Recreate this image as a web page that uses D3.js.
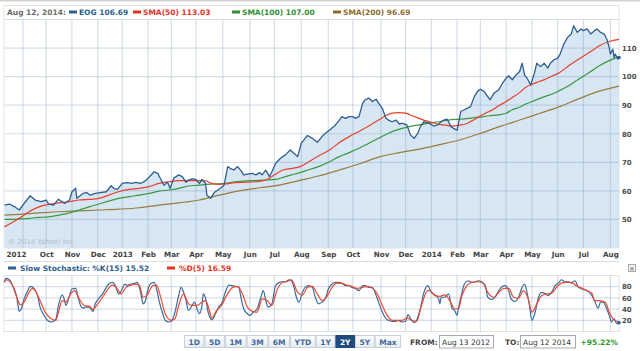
<!DOCTYPE html>
<html>
<head>
<meta charset="utf-8">
<script src="https://cdn.jsdelivr.net/npm/d3@7"></script>
<style>
  body { margin: 0; background: #fff; }
  svg text { font-family: "DejaVu Sans", Verdana, sans-serif; }
</style>
</head>
<body>
<div id="chart"></div>
<script>
// ---- data -------------------------------------------------------------
// trading window and NYSE closures inside it (x axis is in trading sessions)
const fromDate = "2012-08-13";
const toDate = "2014-08-12";
const holidays = ["2012-09-03", "2012-10-29", "2012-10-30", "2012-11-22", "2012-12-25",
    "2013-01-01", "2013-01-21", "2013-02-18", "2013-03-29", "2013-05-27", "2013-07-04",
    "2013-09-02", "2013-11-28", "2013-12-25", "2014-01-01", "2014-01-20", "2014-02-17",
    "2014-04-18", "2014-05-26", "2014-07-04"];

const monthLabels = ["2012", "Oct", "Nov", "Dec", "2013", "Feb", "Mar", "Apr", "May", "Jun", "Jul", "Aug",
    "Sep", "Oct", "Nov", "Dec", "2014", "Feb", "Mar", "Apr", "May", "Jun", "Jul", "Aug"];
const priceTicks = [50, 60, 70, 80, 90, 100, 110];
const stochTicks = [20, 40, 60, 80];

// [session, value]
const eogPrice = [[0,55],[4,55.4],[8,54.5],[12,53.3],[16,55.6],[21,58.3],[25,56.8],[30,56.2],[34,56.8],[36,55.4],
    [40,55],[44,57.1],[49,55.6],[53,56.8],[55,59.7],[58,60.9],[59,57.4],[64,59.1],[67,59.4],[70,58.5],[74,59.1],
    [78,59.4],[83,59.7],[87,61.8],[89,60.9],[92,60.5],[96,62.6],[100,62.9],[104,62.6],[107,63],[111,62.6],
    [115,63.6],[119,65.3],[122,66.7],[125,66.1],[127,64.4],[130,62],[133,63],[135,60.9],[138,64.4],[142,65.6],
    [145,65],[148,63],[150,63.8],[153,64.2],[156,64],[159,62.6],[161,64],[164,62.6],[165,58.5],[168,57.4],
    [171,59.4],[174,60.3],[176,60.9],[179,62],[182,68.5],[184,67.9],[187,67.3],[190,68.5],[193,67],[195,65.6],
    [198,65.9],[202,66.1],[205,65.6],[208,66.4],[210,65.6],[213,67.3],[216,65],[218,66.7],[221,69.6],[225,71.4],
    [229,72.6],[233,74.3],[236,73.2],[239,72],[242,76.7],[244,77.8],[247,79.4],[251,78.4],[255,77],[260,79.6],
    [265,81.3],[269,82.7],[273,84.8],[275,86],[278,85.4],[281,86],[284,86],[286,85.4],[289,86],[292,90.7],
    [294,91.9],[297,92.5],[300,91.3],[303,92.1],[305,90.7],[308,88.9],[311,85.4],[313,84.8],[316,84.2],[319,84.8],
    [322,83.4],[324,83.7],[328,83.1],[331,79.6],[334,78.4],[337,80.2],[339,82.5],[342,84.2],[346,83.7],[350,82.7],
    [353,83.1],[356,84.2],[358,84.8],[361,85.1],[364,82.5],[366,81.9],[369,81.3],[372,87.8],[375,88.4],[377,88.9],
    [380,89.5],[383,93],[386,95],[388,95.6],[391,94.8],[394,93],[396,91.9],[399,94.2],[403,95.4],[406,97.7],
    [409,99.5],[411,100.3],[414,98.9],[417,100.6],[420,101.8],[422,104.7],[424,100.6],[426,99.5],[429,97.1],
    [432,101.2],[434,104.7],[437,103.5],[440,104.7],[443,103],[445,104.7],[448,105.9],[451,106.5],[453,107.9],
    [456,111.4],[459,113.7],[462,114.9],[464,117.8],[467,115.5],[470,116.7],[472,116.1],[475,116.7],[478,114.9],
    [481,116.1],[483,116.7],[486,115.5],[489,114.9],[491,113.2],[493,110.2],[494,107.9],[496,109.6],[497,106.7],
    [498,107.9],[500,106.1],[501,106.69]];

const sma50 = [[0,47.4],[12,50.4],[20,52.7],[28,54.4],[36,55.3],[44,55.8],[53,56.2],[61,56.8],[69,57],[77,57.4],
    [85,58.5],[93,59.7],[102,60.5],[110,60.9],[118,61.5],[126,62.6],[134,63.2],[142,63.6],[150,63.6],[159,63.6],
    [164,63.5],[169,62.6],[175,62.3],[180,62.4],[188,62.9],[197,63],[205,63.2],[213,63.8],[218,65],[227,67.3],
    [235,67.9],[241,68.5],[248,70.2],[256,72.2],[265,74.3],[273,76.9],[281,79],[289,80.8],[297,82.7],[305,84.8],
    [311,86.4],[316,87.2],[322,87.4],[327,87.2],[333,86.2],[338,85.4],[343,84.6],[349,83.9],[354,83.3],[360,83],
    [365,82.7],[371,83],[376,83.4],[381,84.5],[387,86],[392,87.2],[398,88.4],[403,89.8],[409,91.3],[414,92.7],
    [420,94.4],[425,96.3],[430,97.3],[436,98.3],[441,99.1],[447,100.3],[452,101.3],[460,103.8],[468,106.1],
    [477,108.5],[485,110.8],[493,112.3],[501,113.03]];

const sma100 = [[0,50],[12,50.1],[20,50.4],[28,50.7],[36,50.9],[44,51.5],[53,52.3],[61,53.3],[69,54.4],[77,55.4],
    [85,56.4],[93,57.4],[102,58],[110,58.5],[118,59.1],[126,59.9],[134,60.3],[142,60.9],[150,61.7],[159,62],
    [164,62.3],[172,62.4],[180,62.6],[188,63.2],[197,63.5],[205,63.6],[213,63.8],[221,64],[229,65],[237,65.9],
    [246,67.1],[256,68.5],[265,70.2],[273,72],[281,73.4],[289,74.9],[297,76.7],[305,78.4],[313,80.2],[322,81.6],
    [330,82.5],[338,83.1],[346,83.7],[354,84.2],[362,84.8],[371,85.1],[379,85.4],[387,85.8],[395,86.3],[403,86.6],
    [409,87.2],[414,88.4],[420,89.3],[425,90.4],[430,91.3],[436,92.3],[441,93.1],[447,94],[452,95],[460,96.8],
    [468,99.1],[477,101.5],[485,103.8],[493,105.6],[501,107]];

const sma200 = [[0,51.5],[12,51.8],[28,52.3],[44,52.7],[61,53],[77,53.3],[93,53.6],[110,54.1],[126,55],[142,55.8],
    [159,56.8],[175,58.5],[191,60],[208,61.1],[224,62],[240,63.6],[256,65.2],[273,67.3],[289,69.4],[305,71.8],
    [322,73.4],[338,74.6],[354,76.1],[371,77.8],[387,80],[403,82.4],[420,84.8],[436,87.1],[452,89.4],[468,92.2],
    [485,94.9],[501,96.69]];

const stochK = [[0,87.6],[1,94.7],[4,92.4],[6,84.7],[8,75.9],[10,61.2],[11,46.5],[12,35.9],[14,41.8],[16,58.2],
    [19,72.9],[21,80.6],[24,77],[27,64.1],[29,43.5],[32,30],[35,20],[38,17],[40,18.2],[42,22.9],[44,46.5],[47,65.3],
    [49,55.3],[50,46.5],[53,64.1],[55,75.9],[58,77],[60,61.2],[62,46.5],[64,41.8],[66,43.5],[69,43.5],[72,35.9],
    [74,49.4],[77,59.4],[80,67.1],[83,78.8],[85,84.7],[88,87.6],[91,78.8],[93,67.1],[96,75.9],[98,84.7],[100,82.4],
    [103,84.7],[106,85.9],[108,87.6],[110,78.8],[112,58.2],[113,49.4],[115,55.3],[117,75.9],[120,86.5],[122,87.6],
    [124,75.9],[126,55.3],[129,31.8],[131,20],[134,17],[136,18.2],[139,34.7],[142,64.1],[144,78.8],[146,70],
    [148,55.3],[150,37.6],[153,46.5],[155,52.4],[157,40.6],[159,31.8],[161,46.5],[162,67.1],[164,58.2],[166,34.7],
    [168,22.9],[169,21],[172,31.8],[175,45.3],[177,49.4],[180,70],[183,82.9],[186,81.8],[188,80.6],[191,78.8],
    [193,58.2],[195,40.6],[198,31.8],[200,28.8],[203,34.7],[206,40.6],[209,61.2],[211,72.9],[213,55.3],[215,43.5],
    [218,49.4],[221,81.8],[224,87.6],[226,88.8],[229,88.8],[232,92.4],[234,90.6],[236,78.8],[238,61.2],[240,52.4],
    [243,70],[245,78.8],[248,81.8],[251,78.8],[253,64.1],[256,49.4],[259,52.4],[262,61.2],[264,75.9],[267,84.7],
    [270,87.6],[272,87.6],[275,86.5],[278,81.8],[281,81.8],[283,78.8],[286,77],[289,72.9],[292,81.8],[294,81.8],
    [297,78.8],[300,78.8],[302,70],[305,52.4],[308,34.7],[311,22.9],[313,20],[316,18.2],[319,18.2],[321,20],
    [324,17],[327,18.2],[329,30],[331,22.9],[334,15.9],[336,20],[339,40.6],[342,70],[345,81.8],[348,70],[351,65.3],
    [354,58.2],[355,49.4],[356,61.2],[359,61.2],[362,67.1],[365,40.6],[367,37.6],[369,28.8],[370,40.6],[373,70],
    [375,84.7],[378,90.6],[381,87.6],[384,88.8],[386,90.6],[389,88.8],[392,81.8],[394,61.2],[397,57.1],[400,61.2],
    [403,72.9],[405,78.8],[408,81.8],[411,72.9],[413,58.2],[416,53.5],[419,61.2],[422,78.8],[424,84.7],[426,70],
    [428,46.5],[430,20],[433,37.6],[435,58.2],[438,70],[441,67.1],[443,64.1],[446,70],[449,81.8],[452,87.6],
    [454,92.4],[457,88.8],[460,88.8],[462,86.5],[465,90.6],[468,78.8],[471,75.9],[473,74.7],[476,71.2],[479,64.1],
    [481,55.3],[484,41.8],[486,52.4],[488,52.4],[491,40.6],[493,28.8],[495,17],[497,22.9],[499,14.1],[501,15.52]];

const stochD = [[0,87.6],[1,92.4],[6,84.7],[10,61.2],[13,47.6],[16,52.4],[20,70],[23,77],[25,72.9],[29,55.3],
    [34,31.8],[38,22.9],[42,20],[44,34.7],[47,55.3],[50,52.4],[54,67.1],[57,72.9],[61,58.2],[65,46.5],[69,45.3],
    [72,39.4],[76,49.4],[80,61.2],[84,74.7],[88,82.9],[92,75.9],[95,67.1],[99,78.8],[103,82.9],[107,84.7],[110,82],
    [113,61.2],[116,64.1],[121,81.8],[124,82.9],[127,64.1],[131,31.8],[136,20],[139,22.9],[142,46.5],[146,67.1],
    [150,49.4],[153,46.5],[157,46.5],[161,52.4],[164,55.3],[167,37.6],[169,24],[173,37.6],[177,46.5],[181,64.1],
    [186,78.8],[190,80.6],[194,67.1],[198,43.5],[202,35.9],[206,34.7],[210,58.2],[214,55.3],[218,46.5],[222,72.9],
    [226,86.5],[230,88.8],[234,92.4],[239,70],[243,65.3],[247,78.8],[251,80.6],[255,67.1],[259,55.3],[263,62.9],
    [267,78.8],[271,86.5],[275,85.9],[279,82.9],[283,80.6],[287,77],[292,78.8],[296,80.6],[300,77],[304,67.1],
    [308,46.5],[312,28.8],[316,20],[320,20],[324,20],[328,24.1],[332,20],[336,18.2],[340,46.5],[345,72.9],
    [347,72.9],[351,64.1],[355,62.9],[359,65.3],[363,55.3],[367,40.6],[370,40.6],[373,64.1],[377,81.8],[381,87.6],
    [386,88.8],[390,86.5],[394,70],[399,61.2],[403,70],[407,77],[411,77],[415,61.2],[419,59.4],[423,72.9],[427,58.2],
    [430,34.7],[434,49.4],[438,64.1],[442,67.1],[446,68.2],[450,78.8],[454,86.5],[458,87.6],[462,87.6],[466,81.8],
    [471,77],[475,72.9],[479,68.2],[481,55.3],[485,55.3],[490,52.4],[493,34.7],[496,22.9],[501,16.59]];

const legendDate = "Aug 12, 2014:";
const legendNames = ["EOG", "SMA(50)", "SMA(100)", "SMA(200)"];
const legendValues = ["106.69", "113.03", "107.00", "96.69"];
const stochNames = ["Slow Stochastic: %K(15)", "%D(5)"];
const stochValues = ["15.52", "16.59"];
const rangeButtons = ["1D", "5D", "1M", "3M", "6M", "YTD", "1Y", "2Y", "5Y", "Max"];
const selectedRange = "2Y";
const fromLabel = "Aug 13 2012", toLabel = "Aug 12 2014";
const periodChange = "+95.22%";

// ---- trading calendar -------------------------------------------------
const parse = d3.timeParse("%Y-%m-%d");
const fmt = d3.timeFormat("%Y-%m-%d");
const closed = new Set(holidays);
const sessions = d3.timeDays(parse(fromDate), d3.timeDay.offset(parse(toDate), 1))
    .filter(d => d.getDay() % 6 !== 0 && !closed.has(fmt(d)));
// first session of every month after the partial start month
const monthStarts = [];
sessions.forEach((d, i) => {
    if (i > 0 && d.getMonth() !== sessions[i - 1].getMonth()) monthStarts.push(i);
});

// ---- layout -----------------------------------------------------------
const W = 640, H = 351;
const plotL = 4.5, plotR = 619;
const mainTop = 19.5, mainBot = 248;
const stoTop = 275.5, stoBot = 331.5;

const colors = { price: "#2e5e90", fill: "#d6e6f2", sma50: "#e8402c", sma100: "#3b983f", sma200: "#9b7b3c" };
const legendColors = ["#2e5e90", "#e3331f", "#2f9036", "#8d6d2c"];

const svg = d3.select("#chart").append("svg")
    .attr("width", W)
    .attr("height", H);

const x = d3.scaleLinear().domain([0, sessions.length - 1]).range([plotL, plotR]);
const y = d3.scaleLinear().domain([40, 120]).range([mainBot, mainTop]);
const ys = d3.scaleLinear().domain([0, 100]).range([stoBot, stoTop]);

// top page separator
svg.append("rect").attr("x", 0).attr("y", 0).attr("width", W).attr("height", 1.5).attr("fill", "#cfd3d6");

// frames
svg.append("rect")
    .attr("x", 4).attr("y", 5.5).attr("width", plotR - 4).attr("height", mainBot - 5.5)
    .attr("fill", "#fff").attr("stroke", "#dfe5ea");
svg.append("rect")
    .attr("x", 4).attr("y", stoTop).attr("width", plotR - 4).attr("height", stoBot - stoTop)
    .attr("fill", "#fff").attr("stroke", "#dfe5ea");

// price area fill
const area = d3.area()
    .x(d => x(d[0]))
    .y0(y(40))
    .y1(d => y(d[1]));
svg.append("path").datum(eogPrice).attr("d", area).attr("fill", colors.fill);

// grid (drawn over the fill, translucent)
const gridColor = "rgba(120,150,182,0.3)";
const grid = svg.append("g").attr("stroke", gridColor).attr("stroke-width", 1.2);
grid.selectAll(".vmain").data(monthStarts).enter().append("line")
    .attr("x1", d => x(d)).attr("x2", d => x(d))
    .attr("y1", mainTop).attr("y2", mainBot);
grid.selectAll(".hmain").data(priceTicks.concat([120])).enter().append("line")
    .attr("x1", plotL).attr("x2", plotR)
    .attr("y1", d => y(d)).attr("y2", d => y(d));
grid.selectAll(".vsto").data(monthStarts).enter().append("line")
    .attr("x1", d => x(d)).attr("x2", d => x(d))
    .attr("y1", stoTop).attr("y2", stoBot);
grid.selectAll(".hsto").data(stochTicks).enter().append("line")
    .attr("x1", plotL).attr("x2", plotR)
    .attr("y1", d => ys(d)).attr("y2", d => ys(d));

// copyright
svg.append("text")
    .attr("x", 8).attr("y", 244)
    .attr("font-size", "7px")
    .attr("fill", "#aebfce")
    .text("\u00a9 2014 Yahoo! Inc.");

// moving averages and price
const smooth = d3.line().x(d => x(d[0])).y(d => y(d[1])).curve(d3.curveMonotoneX);
const raw = d3.line().x(d => x(d[0])).y(d => y(d[1]));

[[sma200, colors.sma200], [sma100, colors.sma100], [sma50, colors.sma50]].forEach(([s, c]) => {
    svg.append("path").datum(s)
        .attr("d", smooth)
        .attr("fill", "none")
        .attr("stroke", c)
        .attr("stroke-width", 1.2);
});

svg.append("path").datum(eogPrice)
    .attr("d", raw)
    .attr("fill", "none")
    .attr("stroke", colors.price)
    .attr("stroke-width", 1.3)
    .attr("stroke-linejoin", "round");

const lastP = eogPrice[eogPrice.length - 1];
svg.append("circle").attr("cx", x(lastP[0])).attr("cy", y(lastP[1])).attr("r", 1.8).attr("fill", colors.price);

// stochastic lines
const kLine = d3.line().x(d => x(d[0])).y(d => ys(d[1])).curve(d3.curveMonotoneX);
svg.append("path").datum(stochK)
    .attr("d", kLine).attr("fill", "none")
    .attr("stroke", "#3b6b9e").attr("stroke-width", 1.2);
svg.append("path").datum(stochD)
    .attr("d", kLine).attr("fill", "none")
    .attr("stroke", "#ec4a33").attr("stroke-width", 1.2);
const lastK = stochK[stochK.length - 1];
svg.append("circle").attr("cx", x(lastK[0])).attr("cy", ys(lastK[1])).attr("r", 1.8).attr("fill", "#2e5e90");

// right axes
const axisText = sel => sel.selectAll("text")
    .attr("font-size", "7px").attr("font-weight", "bold").attr("fill", "#4d4d4d");

svg.append("g")
    .attr("transform", `translate(${plotR + 3},0)`)
    .call(d3.axisRight(y).tickValues(priceTicks).tickSize(0).tickPadding(0))
    .call(g => g.select(".domain").remove())
    .call(axisText);

svg.append("g")
    .attr("transform", `translate(${plotR + 3},0)`)
    .call(d3.axisRight(ys).tickValues(stochTicks).tickSize(0).tickPadding(0))
    .call(g => g.select(".domain").remove())
    .call(axisText);

// month axis
const xAxis = svg.append("g")
    .attr("transform", `translate(0,${mainBot})`)
    .call(d3.axisBottom(x).tickValues(monthStarts).tickFormat((d, i) => monthLabels[i]).tickSize(0).tickPadding(4))
    .call(g => g.select(".domain").remove())
    .call(sel => sel.selectAll("text")
        .attr("font-size", "7.2px").attr("font-weight", "bold").attr("fill", "#444"));
// first label is pushed inside the frame
xAxis.select(".tick text").attr("text-anchor", "start").attr("x", 6 - x(monthStarts[0]));

svg.append("line")
    .attr("x1", 4).attr("x2", plotR).attr("y1", 261.5).attr("y2", 261.5)
    .attr("stroke", "#d8dcdf");

// top legend
const legend = svg.append("g").attr("font-size", "7.5px").attr("font-weight", "bold");
legend.append("text").attr("x", 7).attr("y", 15).attr("fill", "#6b6b6b").text(legendDate);
const legendX = [69, 133, 232, 333];
legendNames.forEach((n, i) => {
    legend.append("rect")
        .attr("x", legendX[i]).attr("y", 10.5).attr("width", 8).attr("height", 3)
        .attr("fill", legendColors[i]);
    legend.append("text")
        .attr("x", legendX[i] + 10).attr("y", 15)
        .attr("fill", legendColors[i])
        .text(`${n} ${legendValues[i]}`);
});

// stochastic legend
const stoLegendX = [8, 167];
const stoColors = ["#2e5e90", "#e3331f"];
stochNames.forEach((n, i) => {
    legend.append("rect")
        .attr("x", stoLegendX[i]).attr("y", 266.5).attr("width", 8).attr("height", 3)
        .attr("fill", stoColors[i]);
    legend.append("text")
        .attr("x", stoLegendX[i] + 12).attr("y", 271)
        .attr("fill", stoColors[i])
        .text(`${n} ${stochValues[i]}`);
});

// close box
const close = svg.append("g").attr("transform", "translate(628.5,264.5)");
close.append("rect").attr("width", 7).attr("height", 7).attr("fill", "#f3f3f3").attr("stroke", "#aaa");
close.append("text").attr("x", 3.5).attr("y", 6).attr("text-anchor", "middle")
    .attr("font-size", "7px").attr("fill", "#555").text("\u00d7");

// range buttons
const defs = svg.append("defs");
const grad = defs.append("linearGradient").attr("id", "btn").attr("x1", 0).attr("x2", 0).attr("y1", 0).attr("y2", 1);
grad.append("stop").attr("offset", "0%").attr("stop-color", "#ffffff");
grad.append("stop").attr("offset", "100%").attr("stop-color", "#e6ebf0");

let bx = 184.5;
rangeButtons.forEach(b => {
    const g = svg.append("g");
    const t = g.append("text")
        .attr("y", 344.5)
        .attr("font-size", "7.5px").attr("font-weight", "bold")
        .attr("text-anchor", "middle")
        .attr("fill", b === selectedRange ? "#fff" : "#3d6a9c")
        .text(b);
    const w = t.node().getComputedTextLength() + 8;
    g.insert("rect", "text")
        .attr("x", bx).attr("y", 335.5).attr("width", w).attr("height", 12)
        .attr("fill", b === selectedRange ? "#1e4b7b" : "url(#btn)")
        .attr("stroke", b === selectedRange ? "#1e4b7b" : "#c7d0d8");
    t.attr("x", bx + w / 2);
    bx += w + 1;
});

// from / to
const ctrl = svg.append("g").attr("font-size", "7.5px");
ctrl.append("text").attr("x", 410).attr("y", 344.5).attr("font-weight", "bold").attr("fill", "#444").text("FROM:");
ctrl.append("rect").attr("x", 439.5).attr("y", 335.5).attr("width", 54).attr("height", 12.5)
    .attr("fill", "#fff").attr("stroke", "#a9a9a9");
ctrl.append("text").attr("x", 442).attr("y", 344.5).attr("fill", "#333").text(fromLabel);
ctrl.append("text").attr("x", 505).attr("y", 344.5).attr("font-weight", "bold").attr("fill", "#444").text("TO:");
ctrl.append("rect").attr("x", 520.5).attr("y", 335.5).attr("width", 55).attr("height", 12.5)
    .attr("fill", "#fff").attr("stroke", "#a9a9a9");
ctrl.append("text").attr("x", 523).attr("y", 344.5).attr("fill", "#333").text(toLabel);
ctrl.append("text").attr("x", 618).attr("y", 344.5).attr("text-anchor", "end")
    .attr("font-weight", "bold").attr("fill", "#2a9a2a").text(periodChange);
</script>
</body>
</html>
